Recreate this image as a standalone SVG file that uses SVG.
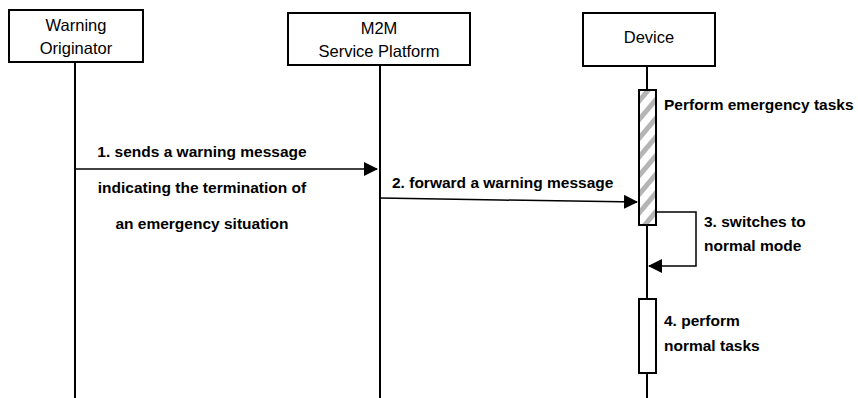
<svg xmlns="http://www.w3.org/2000/svg" width="858" height="398" viewBox="0 0 858 398">
<style>
.box{fill:#fff;stroke:#000;stroke-width:2}
.life{stroke:#000;stroke-width:2;fill:none}
.hd{font-family:"Liberation Sans",Arial,sans-serif;font-size:16.5px;fill:#000;text-anchor:middle}
.lb{font-family:"Liberation Sans",Arial,sans-serif;font-size:15.5px;font-weight:bold;fill:#000}
.msg{stroke:#000;stroke-width:1.5;fill:none}
</style>
<defs>
<pattern id="hatch" patternUnits="userSpaceOnUse" width="12" height="12" patternTransform="rotate(-50)">
<rect width="12" height="12" fill="#fff"/>
<rect width="12" height="5" fill="#b5b5b5"/>
</pattern>
<marker id="ahb" markerWidth="14" markerHeight="14" refX="13" refY="7" orient="auto" markerUnits="userSpaceOnUse" viewBox="0 0 14 14">
<path d="M0,0 L14,7 L0,14 z" fill="#000"/>
</marker>
</defs>
<g id="lifelines">
<line class="life" x1="75" y1="62" x2="75" y2="398"/>
<line class="life" x1="380" y1="65" x2="380" y2="398"/>
<line class="life" x1="647" y1="66" x2="647" y2="398"/>
</g>
<g id="warning-originator">
<rect class="box" x="9" y="10" width="134" height="52"/>
<text class="hd" x="76" y="31">Warning</text>
<text class="hd" x="76" y="54">Originator</text>
</g>
<g id="m2m-platform">
<rect class="box" x="288" y="13" width="182" height="52"/>
<text class="hd" x="379" y="34">M2M</text>
<text class="hd" x="379" y="57">Service Platform</text>
</g>
<g id="device">
<rect class="box" x="583" y="13" width="132" height="53"/>
<text class="hd" x="649" y="43">Device</text>
</g>
<g id="activation-emergency">
<rect x="639" y="90" width="17" height="135" fill="url(#hatch)" stroke="#000" stroke-width="2"/>
<text class="lb" x="664" y="110">Perform emergency tasks</text>
</g>
<g id="activation-normal">
<rect class="box" x="639" y="299" width="17" height="74"/>
<text class="lb" x="664" y="326">4. perform</text>
<text class="lb" x="664" y="351">normal tasks</text>
</g>
<g id="connectors">
<line class="msg" x1="75" y1="169" x2="377" y2="169" marker-end="url(#ahb)"/>
<path class="msg" d="M380,198 L500,200 L637,202" marker-end="url(#ahb)"/>
<path class="msg" d="M657,212 L696,212 L696,266 L649,266" marker-end="url(#ahb)"/>
</g>
<g id="labels">
<text class="lb" x="202" y="157" text-anchor="middle">1. sends a warning message</text>
<text class="lb" x="202" y="193" text-anchor="middle">indicating the termination of</text>
<text class="lb" x="202" y="229" text-anchor="middle">an emergency situation</text>
<text class="lb" x="392" y="188">2. forward a warning message</text>
<text class="lb" x="704" y="227">3. switches to</text>
<text class="lb" x="704" y="251">normal mode</text>
</g>
</svg>
